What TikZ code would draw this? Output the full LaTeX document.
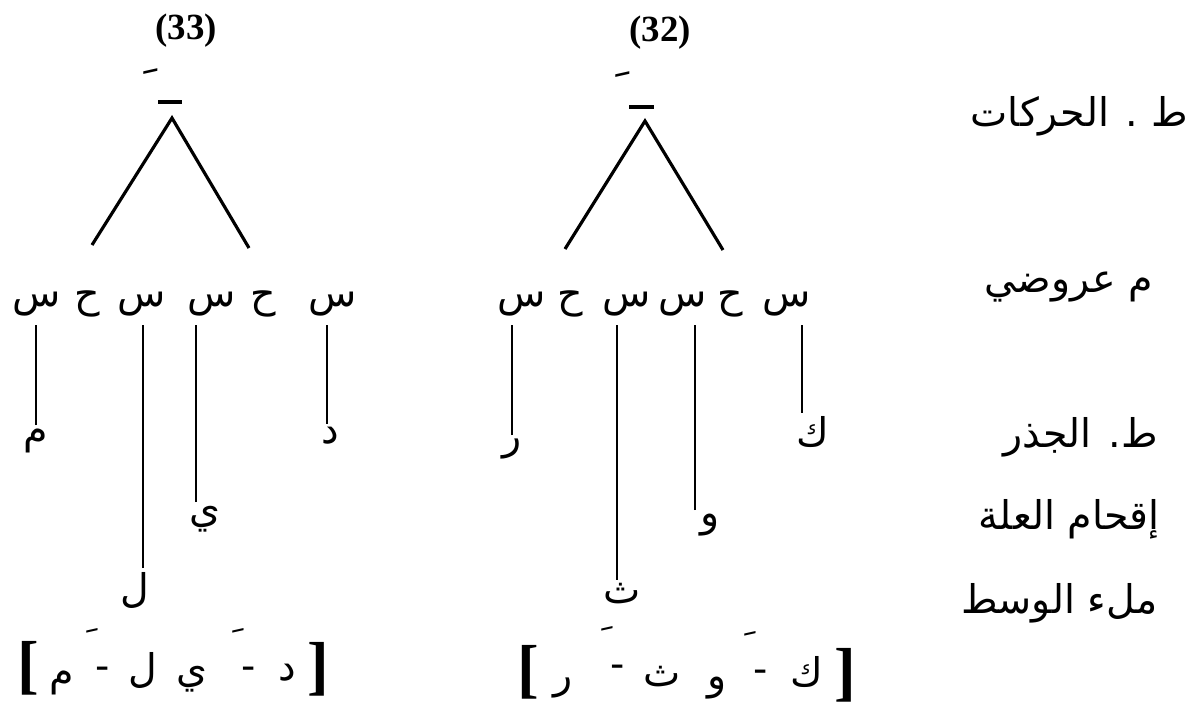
\documentclass[tikz,border=0pt]{standalone}
\usepackage{fontspec}
\usepackage{tikz}
\usetikzlibrary{positioning,calc}
\setmainfont{Liberation Serif}
\newfontfamily\arabicfont[Script=Arabic]{DejaVu Sans}
\TeXXeTstate=1
\newcommand{\AR}[1]{\beginR#1\endR}
\newcommand{\fatha}{\char"00A0\char"064E}
\newcommand{\dfat}{\raisebox{13pt}{\fatha}-}

\begin{document}
\begin{tikzpicture}[x=0.02cm,y=-0.02cm,
  ar/.style={font=\arabicfont\fontsize{22.5}{26}\selectfont,inner sep=2pt},
  fat/.style={font=\arabicfont\fontsize{28}{30}\selectfont,inner sep=0pt},
  dsh/.style={ar,anchor=base},
  lbl/.style={ar,anchor=east,inner sep=0pt},
  num/.style={font=\fontsize{21}{24}\selectfont\bfseries},
  brk/.style={font=\fontsize{37}{40}\selectfont\bfseries,inner sep=0pt},
  bar/.style={fill,inner sep=0pt,minimum width=0.5cm,minimum height=2pt},
  tie/.style={line width=1.6pt,shorten >=3pt},
  leg/.style={line width=1.8pt,line join=miter}]
\useasboundingbox (0,0) rectangle (1194,708);
% tier labels
\node[lbl] (lh) at (1188,116) {\AR{ط . الحركات}};
\node[lbl] (lm) at (1153,287) {\AR{م عروضي}};
\node[lbl] (lj) at (1158,437) {\AR{ط. الجذر}};
\node[lbl] (li) at (1160,519) {\AR{إقحام العلة}};
\node[lbl] (lw) at (1158,603) {\AR{ملء الوسط}};
% (33)
\node[num] (n33) at (186,31) {(33)};
\node[fat] (fa) at (146,86) {\fatha};
\node[bar] (ka) at (170,102) {};
\coordinate (pa) at (172,118);
\coordinate (pal) at (92,245); \coordinate (par) at (249,248);
\draw[leg] (pal) -- (pa) -- (par);
\foreach \x/\t [count=\i] in {37/س,87/ح,142/س,212/س,263/ح,333/س}
  \node[ar] (a\i) at (\x,304) {\t};
\node[ar] (am) at (36,441) {م};
\node[ar] (ad) at (330,436) {د};
\node[ar] (ay) at (205,519) {ي};
\node[ar] (al) at (135,590) {ل};
\draw[tie] (am.north) -- (am.north |- a1.south);
\draw[tie] ($(al.north)+(8,0)$) -- ($(al.north |- a3.south)+(8,0)$);
\draw[tie] ($(ay.north)+(-9,0)$) -- ($(ay.north |- a4.south)+(-9,0)$);
\draw[tie] ($(ad.north)+(-3,0)$) -- ($(ad.north |- a6.south)+(-3,0)$);
\node[brk] (sa) at (28,668) {[};
\node[brk] (ea) at (318,669) {]};
\foreach \x/\y/\t [count=\i] in {62/683/م,143/670/ل,192/679/ي,287/673/د}
  \node[ar] (ca\i) at (\x,\y) {\t};
\node[dsh] (da1) at (96,679) {\dfat};
\node[dsh] (da2) at (242,679) {\dfat};
% (32)
\node[num] (n32) at (660,33) {(32)};
\node[fat] (fb) at (618,89) {\fatha};
\node[bar] (kb) at (641,107) {};
\coordinate (pb) at (645,121);
\coordinate (pbl) at (565,249); \coordinate (pbr) at (723,250);
\draw[leg] (pbl) -- (pb) -- (pbr);
\foreach \x/\t [count=\i] in {522/س,570/ح,627/س,683/س,730/ح,787/س}
  \node[ar] (b\i) at (\x,304) {\t};
\node[ar] (br) at (512,449) {ر};
\node[ar] (bk) at (813,432) {ك};
\node[ar] (bw) at (710,525) {و};
\node[ar] (bt) at (622,594) {ث};
\draw[tie] (br.north) -- (br.north |- b1.south);
\draw[tie] ($(bt.north)+(-5,0)$) -- ($(bt.north |- b3.south)+(-5,0)$);
\draw[tie] ($(bw.north)+(-15,0)$) -- ($(bw.north |- b4.south)+(-15,0)$);
\draw[tie] ($(bk.north)+(-11,0)$) -- ($(bk.north |- b6.south)+(-11,0)$);
\node[brk] (sb) at (528,672) {[};
\node[brk] (eb) at (845,675) {]};
\foreach \x/\y/\t [count=\i] in {563/688/ر,662/677/ث,717/688/و,807/672/ك}
  \node[ar] (cb\i) at (\x,\y) {\t};
\node[dsh] (db1) at (611,677) {\dfat};
\node[dsh] (db2) at (754,682) {\dfat};
\end{tikzpicture}
\end{document}
